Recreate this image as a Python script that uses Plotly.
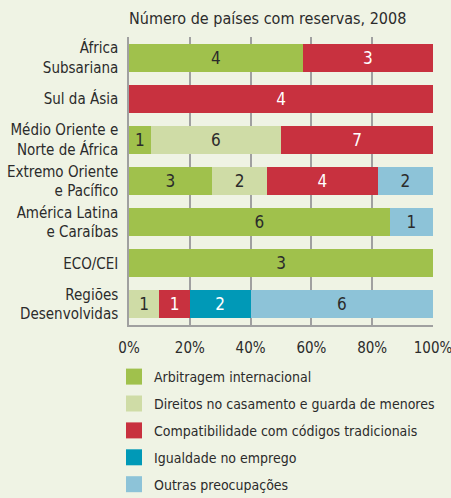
import plotly.graph_objects as go

regions = [
    "África<br>Subsariana",
    "Sul da Ásia",
    "Médio Oriente e<br>Norte de África",
    "Extremo Oriente<br>e Pacífico",
    "América Latina<br>e Caraíbas",
    "ECO/CEI",
    "Regiões<br>Desenvolvidas",
]

series_names = [
    "Arbitragem internacional",
    "Direitos no casamento e guarda de menores",
    "Compatibilidade com códigos tradicionais",
    "Igualdade no emprego",
    "Outras preocupações",
]

arbitragem = [4, 0, 1, 3, 6, 3, 0]
direitos = [0, 0, 6, 2, 0, 0, 1]
compatibilidade = [3, 4, 7, 4, 0, 0, 1]
igualdade = [0, 0, 0, 0, 0, 0, 2]
outras = [0, 0, 0, 2, 1, 0, 6]

x_ticks = [0, 20, 40, 60, 80, 100]

colors = ["#a0c14c", "#cfdca6", "#c8313f", "#0099b7", "#8dc3d8"]
text_colors = ["#2b2b2b", "#2b2b2b", "#ffffff", "#ffffff", "#2b2b2b"]

FONT = "DejaVu Sans Condensed, Liberation Sans Narrow, sans-serif"
BG = "#eff3e4"

fig = go.Figure()
all_values = [arbitragem, direitos, compatibilidade, igualdade, outras]
for i, (name, vals) in enumerate(zip(series_names, all_values)):
    fig.add_trace(go.Bar(
        y=regions,
        x=vals,
        orientation="h",
        name=name,
        marker=dict(color=colors[i], line=dict(width=0)),
        text=[str(v) if v else "" for v in vals],
        textposition="inside",
        insidetextanchor="middle",
        textfont=dict(color=text_colors[i], size=17, family=FONT),
        showlegend=False,
        hoverinfo="skip",
    ))
    # legend swatch
    fig.add_trace(go.Scatter(
        x=[None], y=[None],
        mode="markers",
        name=name,
        legendgroup=f"g{i}",
        marker=dict(symbol="square", size=18, color=colors[i]),
        showlegend=True,
    ))

fig.update_layout(
    barmode="stack",
    barnorm="percent",
    bargap=0.32,
    width=451,
    height=498,
    paper_bgcolor=BG,
    plot_bgcolor=BG,
    margin=dict(l=129, r=18, t=37, b=173, autoexpand=False),
    font=dict(family=FONT, size=15, color="#2b2b2b"),
    title=dict(
        text="Número de países com reservas, 2008",
        x=0, xref="paper", xanchor="left",
        y=1 - 18 / 498, yanchor="middle",
        font=dict(size=16, family=FONT, color="#2b2b2b"),
    ),
    xaxis=dict(
        range=[0, 100],
        tickvals=x_ticks,
        ticktext=[f"{t}%" for t in x_ticks],
        showgrid=True,
        gridcolor="#a0a0a0",
        gridwidth=1.5,
        showline=True,
        linecolor="#a0a0a0",
        linewidth=1.5,
        zeroline=False,
        tickfont=dict(size=15),
        ticks="",
        ticklen=0,
        automargin=False,
        ticklabeloverflow="allow",
        ticklabelstandoff=8,
    ),
    yaxis=dict(
        autorange="reversed",
        showline=True,
        linecolor="#a0a0a0",
        linewidth=1.5,
        showgrid=False,
        tickfont=dict(size=15),
        ticks="",
        ticklabelstandoff=6,
        automargin=False,
    ),
    legend=dict(
        x=-15 / 304, xref="paper", xanchor="left",
        y=-36 / 288, yref="paper", yanchor="top",
        bgcolor="rgba(0,0,0,0)",
        font=dict(size=14, family=FONT),
        itemwidth=30,
        tracegroupgap=5.7,
    ),
)

fig.write_html("out.html")
